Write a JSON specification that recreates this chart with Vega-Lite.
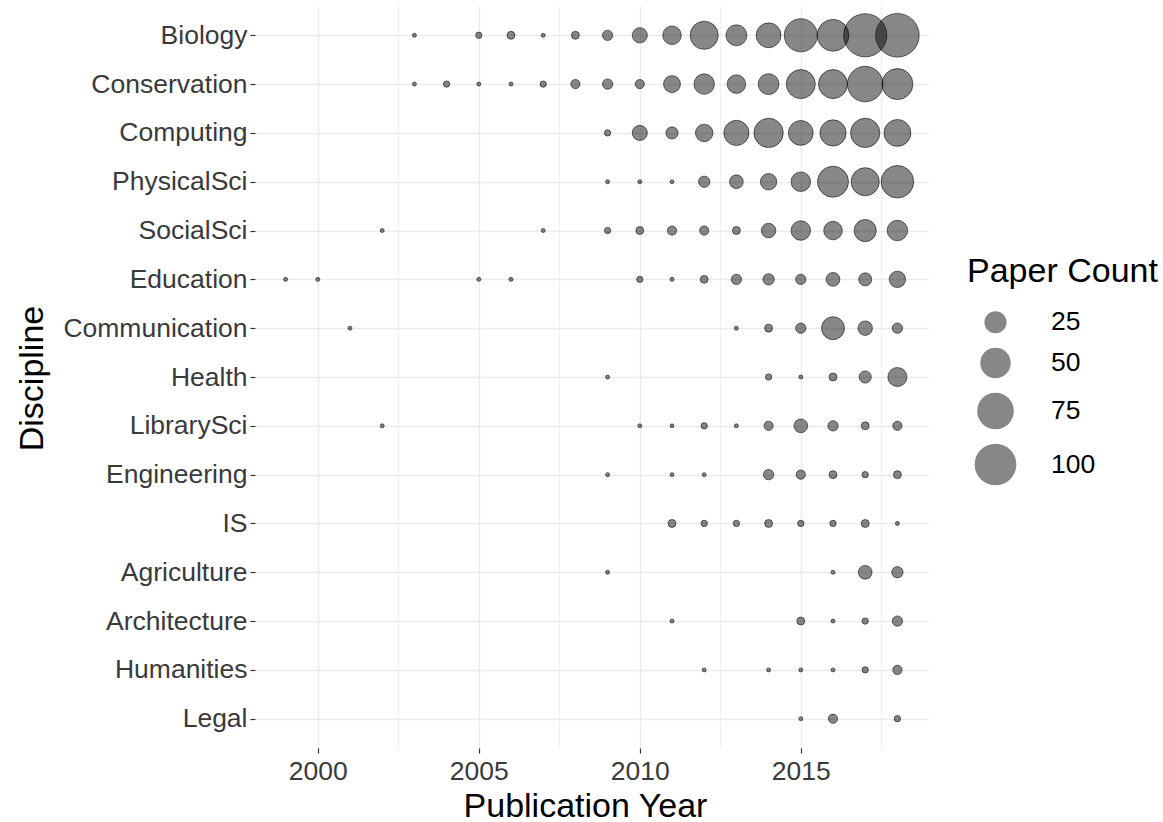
{
  "$schema": "https://vega.github.io/schema/vega-lite/v6.json",
  "autosize": "none",
  "padding": {"left": 255, "top": 6, "right": 235, "bottom": 74},
  "width": 673,
  "height": 742,
  "background": "white",
  "config": {
    "view": {"stroke": null},
    "font": "Liberation Sans"
  },
  "data": {
    "values": [
      {"d": "Biology", "year": 2003, "count": 1},
      {"d": "Biology", "year": 2005, "count": 2},
      {"d": "Biology", "year": 2006, "count": 3},
      {"d": "Biology", "year": 2007, "count": 1},
      {"d": "Biology", "year": 2008, "count": 3},
      {"d": "Biology", "year": 2009, "count": 5},
      {"d": "Biology", "year": 2010, "count": 11},
      {"d": "Biology", "year": 2011, "count": 17},
      {"d": "Biology", "year": 2012, "count": 42},
      {"d": "Biology", "year": 2013, "count": 22},
      {"d": "Biology", "year": 2014, "count": 32},
      {"d": "Biology", "year": 2015, "count": 60},
      {"d": "Biology", "year": 2016, "count": 55},
      {"d": "Biology", "year": 2017, "count": 108},
      {"d": "Biology", "year": 2018, "count": 110},
      {"d": "Conservation", "year": 2003, "count": 1},
      {"d": "Conservation", "year": 2004, "count": 2},
      {"d": "Conservation", "year": 2005, "count": 1},
      {"d": "Conservation", "year": 2006, "count": 1},
      {"d": "Conservation", "year": 2007, "count": 2},
      {"d": "Conservation", "year": 2008, "count": 4},
      {"d": "Conservation", "year": 2009, "count": 5},
      {"d": "Conservation", "year": 2010, "count": 4},
      {"d": "Conservation", "year": 2011, "count": 14},
      {"d": "Conservation", "year": 2012, "count": 21},
      {"d": "Conservation", "year": 2013, "count": 17},
      {"d": "Conservation", "year": 2014, "count": 22},
      {"d": "Conservation", "year": 2015, "count": 45},
      {"d": "Conservation", "year": 2016, "count": 45},
      {"d": "Conservation", "year": 2017, "count": 70},
      {"d": "Conservation", "year": 2018, "count": 52},
      {"d": "Computing", "year": 2009, "count": 2},
      {"d": "Computing", "year": 2010, "count": 11},
      {"d": "Computing", "year": 2011, "count": 7},
      {"d": "Computing", "year": 2012, "count": 15},
      {"d": "Computing", "year": 2013, "count": 33},
      {"d": "Computing", "year": 2014, "count": 46},
      {"d": "Computing", "year": 2015, "count": 32},
      {"d": "Computing", "year": 2016, "count": 36},
      {"d": "Computing", "year": 2017, "count": 46},
      {"d": "Computing", "year": 2018, "count": 38},
      {"d": "PhysicalSci", "year": 2009, "count": 1},
      {"d": "PhysicalSci", "year": 2010, "count": 1},
      {"d": "PhysicalSci", "year": 2011, "count": 1},
      {"d": "PhysicalSci", "year": 2012, "count": 6},
      {"d": "PhysicalSci", "year": 2013, "count": 9},
      {"d": "PhysicalSci", "year": 2014, "count": 13},
      {"d": "PhysicalSci", "year": 2015, "count": 19},
      {"d": "PhysicalSci", "year": 2016, "count": 52},
      {"d": "PhysicalSci", "year": 2017, "count": 42},
      {"d": "PhysicalSci", "year": 2018, "count": 58},
      {"d": "SocialSci", "year": 2002, "count": 1},
      {"d": "SocialSci", "year": 2007, "count": 1},
      {"d": "SocialSci", "year": 2009, "count": 2},
      {"d": "SocialSci", "year": 2010, "count": 3},
      {"d": "SocialSci", "year": 2011, "count": 4},
      {"d": "SocialSci", "year": 2012, "count": 4},
      {"d": "SocialSci", "year": 2013, "count": 3},
      {"d": "SocialSci", "year": 2014, "count": 10},
      {"d": "SocialSci", "year": 2015, "count": 19},
      {"d": "SocialSci", "year": 2016, "count": 17},
      {"d": "SocialSci", "year": 2017, "count": 25},
      {"d": "SocialSci", "year": 2018, "count": 21},
      {"d": "Education", "year": 1999, "count": 1},
      {"d": "Education", "year": 2000, "count": 1},
      {"d": "Education", "year": 2005, "count": 1},
      {"d": "Education", "year": 2006, "count": 1},
      {"d": "Education", "year": 2010, "count": 2},
      {"d": "Education", "year": 2011, "count": 1},
      {"d": "Education", "year": 2012, "count": 3},
      {"d": "Education", "year": 2013, "count": 5},
      {"d": "Education", "year": 2014, "count": 6},
      {"d": "Education", "year": 2015, "count": 5},
      {"d": "Education", "year": 2016, "count": 9},
      {"d": "Education", "year": 2017, "count": 8},
      {"d": "Education", "year": 2018, "count": 13},
      {"d": "Communication", "year": 2001, "count": 1},
      {"d": "Communication", "year": 2013, "count": 1},
      {"d": "Communication", "year": 2014, "count": 3},
      {"d": "Communication", "year": 2015, "count": 5},
      {"d": "Communication", "year": 2016, "count": 27},
      {"d": "Communication", "year": 2017, "count": 10},
      {"d": "Communication", "year": 2018, "count": 5},
      {"d": "Health", "year": 2009, "count": 1},
      {"d": "Health", "year": 2014, "count": 2},
      {"d": "Health", "year": 2015, "count": 1},
      {"d": "Health", "year": 2016, "count": 3},
      {"d": "Health", "year": 2017, "count": 7},
      {"d": "Health", "year": 2018, "count": 18},
      {"d": "LibrarySci", "year": 2002, "count": 1},
      {"d": "LibrarySci", "year": 2010, "count": 1},
      {"d": "LibrarySci", "year": 2011, "count": 1},
      {"d": "LibrarySci", "year": 2012, "count": 2},
      {"d": "LibrarySci", "year": 2013, "count": 1},
      {"d": "LibrarySci", "year": 2014, "count": 4},
      {"d": "LibrarySci", "year": 2015, "count": 9},
      {"d": "LibrarySci", "year": 2016, "count": 5},
      {"d": "LibrarySci", "year": 2017, "count": 3},
      {"d": "LibrarySci", "year": 2018, "count": 4},
      {"d": "Engineering", "year": 2009, "count": 1},
      {"d": "Engineering", "year": 2011, "count": 1},
      {"d": "Engineering", "year": 2012, "count": 1},
      {"d": "Engineering", "year": 2014, "count": 5},
      {"d": "Engineering", "year": 2015, "count": 4},
      {"d": "Engineering", "year": 2016, "count": 3},
      {"d": "Engineering", "year": 2017, "count": 2},
      {"d": "Engineering", "year": 2018, "count": 3},
      {"d": "IS", "year": 2011, "count": 3},
      {"d": "IS", "year": 2012, "count": 2},
      {"d": "IS", "year": 2013, "count": 2},
      {"d": "IS", "year": 2014, "count": 3},
      {"d": "IS", "year": 2015, "count": 2},
      {"d": "IS", "year": 2016, "count": 2},
      {"d": "IS", "year": 2017, "count": 3},
      {"d": "IS", "year": 2018, "count": 1},
      {"d": "Agriculture", "year": 2009, "count": 1},
      {"d": "Agriculture", "year": 2016, "count": 1},
      {"d": "Agriculture", "year": 2017, "count": 9},
      {"d": "Agriculture", "year": 2018, "count": 6},
      {"d": "Architecture", "year": 2011, "count": 1},
      {"d": "Architecture", "year": 2015, "count": 3},
      {"d": "Architecture", "year": 2016, "count": 1},
      {"d": "Architecture", "year": 2017, "count": 2},
      {"d": "Architecture", "year": 2018, "count": 5},
      {"d": "Humanities", "year": 2012, "count": 1},
      {"d": "Humanities", "year": 2014, "count": 1},
      {"d": "Humanities", "year": 2015, "count": 1},
      {"d": "Humanities", "year": 2016, "count": 1},
      {"d": "Humanities", "year": 2017, "count": 2},
      {"d": "Humanities", "year": 2018, "count": 4},
      {"d": "Legal", "year": 2015, "count": 1},
      {"d": "Legal", "year": 2016, "count": 4},
      {"d": "Legal", "year": 2018, "count": 2}
    ]
  },
  "mark": {
    "type": "circle",
    "fill": "rgba(0,0,0,0.47)",
    "stroke": "rgba(0,0,0,0.55)",
    "strokeWidth": 1,
    "opacity": 1
  },
  "encoding": {
    "x": {
      "field": "year",
      "type": "quantitative",
      "scale": {"domain": [1998.05, 2018.95], "nice": false, "zero": false},
      "axis": {
        "title": "Publication Year",
        "values": [2000, 2002.5, 2005, 2007.5, 2010, 2012.5, 2015, 2017.5],
        "format": "d",
        "labelExpr": "datum.value % 5 === 0 ? datum.label : ''",
        "grid": true,
        "gridColor": "#EBEBEB",
        "gridWidth": {"condition": {"test": "datum.value % 5 === 0", "value": 1.4}, "value": 0.8},
        "tickColor": {"condition": {"test": "datum.value % 5 === 0", "value": "#333333"}, "value": "transparent"},
        "tickSize": 5,
        "tickWidth": 1.2,
        "domain": false,
        "labelFont": "Liberation Sans",
        "labelFontSize": 26.5,
        "labelColor": "#3A3A3A",
        "labelPadding": 5,
        "labelOverlap": false,
        "titleFont": "Liberation Sans",
        "titleFontSize": 34,
        "titleFontWeight": "normal",
        "titleColor": "#000000",
        "titleBaseline": "middle",
        "titleX": 330,
        "titleY": 58
      }
    },
    "y": {
      "field": "d",
      "type": "nominal",
      "sort": ["Biology", "Conservation", "Computing", "PhysicalSci", "SocialSci", "Education", "Communication", "Health", "LibrarySci", "Engineering", "IS", "Agriculture", "Architecture", "Humanities", "Legal"],
      "scale": {"type": "point", "padding": 0.6},
      "axis": {
        "title": "Discipline",
        "grid": true,
        "gridColor": "#EBEBEB",
        "gridWidth": 1.4,
        "tickColor": "#333333",
        "tickSize": 5,
        "tickWidth": 1.2,
        "domain": false,
        "labelFont": "Liberation Sans",
        "labelFontSize": 26.5,
        "labelColor": "#3A3A3A",
        "labelPadding": 3,
        "labelLimit": 400,
        "titleFont": "Liberation Sans",
        "titleFontSize": 34,
        "titleFontWeight": "normal",
        "titleColor": "#000000",
        "titleBaseline": "middle",
        "titleX": -223,
        "titleY": 372
      }
    },
    "size": {
      "field": "count",
      "type": "quantitative",
      "scale": {"type": "pow", "exponent": 0.9, "domain": [1, 110], "range": [16, 1900], "zero": false},
      "legend": {
        "title": "Paper Count",
        "values": [25, 50, 75, 100],
        "orient": "none",
        "legendX": 712,
        "legendY": 249,
        "padding": 0,
        "titleFont": "Liberation Sans",
        "titleFontSize": 34,
        "titleFontWeight": "normal",
        "titleColor": "#000000",
        "titlePadding": 20,
        "titleLimit": 400,
        "labelFont": "Liberation Sans",
        "labelFontSize": 26.5,
        "labelColor": "#000000",
        "labelOffset": 34,
        "symbolOffset": 7,
        "rowPadding": 9,
        "symbolType": "circle",
        "symbolStrokeWidth": 1,
        "symbolFillColor": "rgba(0,0,0,0.47)",
        "symbolStrokeColor": "rgba(0,0,0,0.55)"
      }
    }
  }
}
